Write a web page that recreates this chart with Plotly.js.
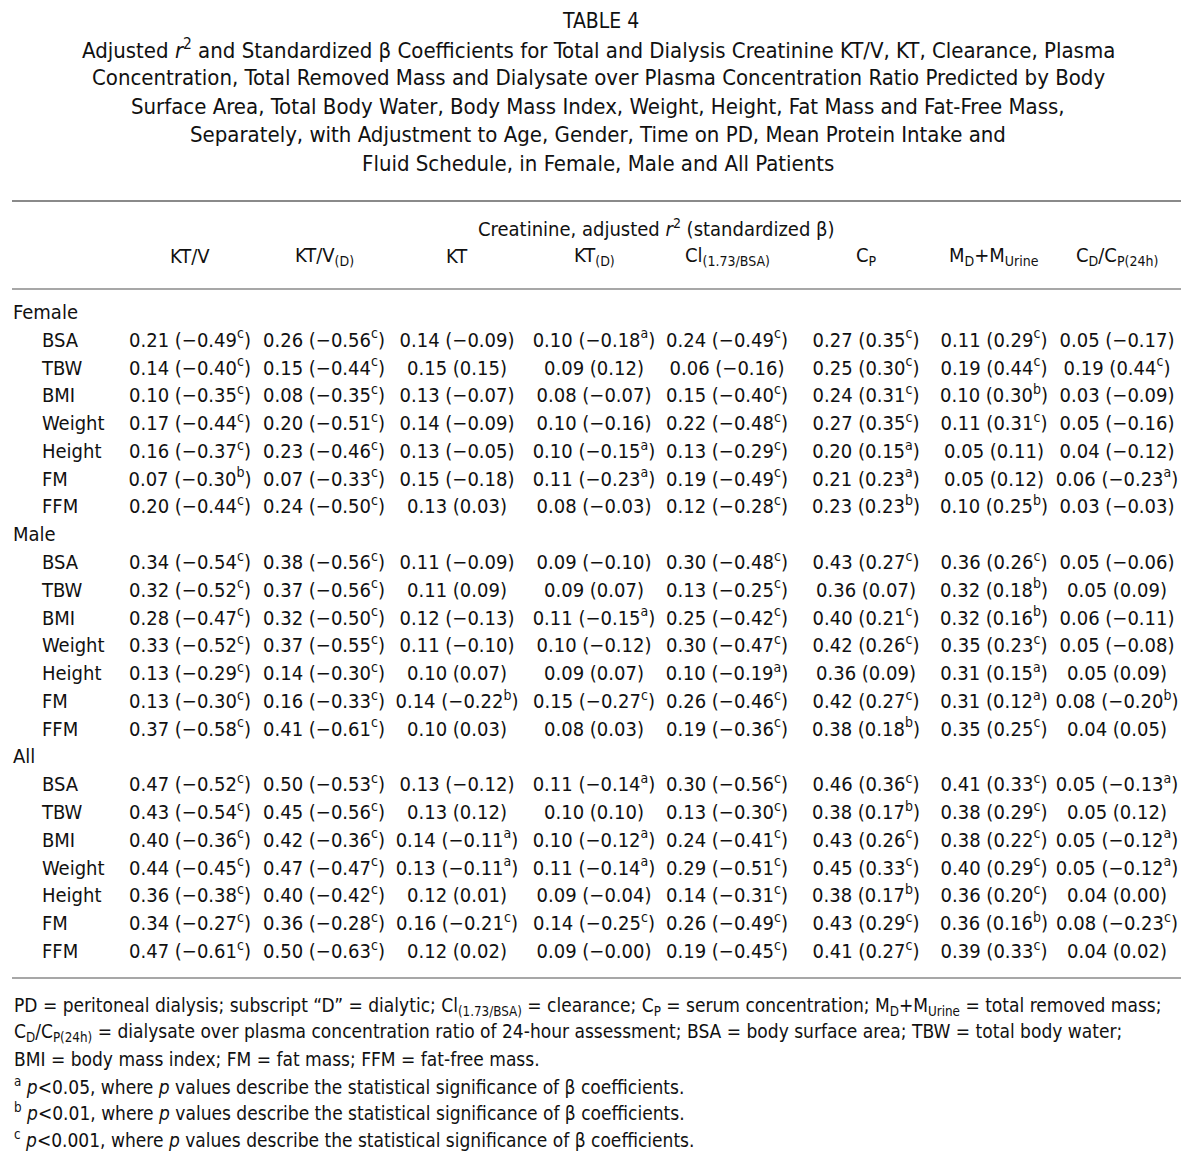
<!DOCTYPE html>
<html><head><meta charset="utf-8">
<script src="https://cdn.plot.ly/plotly-3.0.1.min.js"></script>
<style>html,body{margin:0;padding:0;background:#fff}</style>
</head><body><div id="chart" style="width:1200px;height:1167px"></div>
<script>
// ---------------- DATA ----------------
const tableNumber = 'TABLE 4';
const titleLines = [
  'Adjusted <i>r</i><sup>2</sup> and Standardized β Coefficients for Total and Dialysis Creatinine KT/V, KT, Clearance, Plasma',
  'Concentration, Total Removed Mass and Dialysate over Plasma Concentration Ratio Predicted by Body',
  'Surface Area, Total Body Water, Body Mass Index, Weight, Height, Fat Mass and Fat-Free Mass,',
  'Separately, with Adjustment to Age, Gender, Time on PD, Mean Protein Intake and',
  'Fluid Schedule, in Female, Male and All Patients'
];
const spanningHeader = 'Creatinine, adjusted <i>r</i><sup>2</sup> (standardized β)';
const columnHeaders = ['KT/V', 'KT/V<sub>(D)</sub>', 'KT', 'KT<sub>(D)</sub>', 'Cl<sub>(1.73/BSA)</sub>',
  'C<sub>P</sub>', 'M<sub>D</sub>+M<sub>Urine</sub>', 'C<sub>D</sub>/C<sub>P(24h)</sub>'];
const groups = ['Female', 'Male', 'All'];
const predictors = ['BSA', 'TBW', 'BMI', 'Weight', 'Height', 'FM', 'FFM'];

const femaleCells = [
  ['0.21 (−0.49^c)', '0.26 (−0.56^c)', '0.14 (−0.09)', '0.10 (−0.18^a)', '0.24 (−0.49^c)', '0.27 (0.35^c)', '0.11 (0.29^c)', '0.05 (−0.17)'],
  ['0.14 (−0.40^c)', '0.15 (−0.44^c)', '0.15 (0.15)', '0.09 (0.12)', '0.06 (−0.16)', '0.25 (0.30^c)', '0.19 (0.44^c)', '0.19 (0.44^c)'],
  ['0.10 (−0.35^c)', '0.08 (−0.35^c)', '0.13 (−0.07)', '0.08 (−0.07)', '0.15 (−0.40^c)', '0.24 (0.31^c)', '0.10 (0.30^b)', '0.03 (−0.09)'],
  ['0.17 (−0.44^c)', '0.20 (−0.51^c)', '0.14 (−0.09)', '0.10 (−0.16)', '0.22 (−0.48^c)', '0.27 (0.35^c)', '0.11 (0.31^c)', '0.05 (−0.16)'],
  ['0.16 (−0.37^c)', '0.23 (−0.46^c)', '0.13 (−0.05)', '0.10 (−0.15^a)', '0.13 (−0.29^c)', '0.20 (0.15^a)', '0.05 (0.11)', '0.04 (−0.12)'],
  ['0.07 (−0.30^b)', '0.07 (−0.33^c)', '0.15 (−0.18)', '0.11 (−0.23^a)', '0.19 (−0.49^c)', '0.21 (0.23^a)', '0.05 (0.12)', '0.06 (−0.23^a)'],
  ['0.20 (−0.44^c)', '0.24 (−0.50^c)', '0.13 (0.03)', '0.08 (−0.03)', '0.12 (−0.28^c)', '0.23 (0.23^b)', '0.10 (0.25^b)', '0.03 (−0.03)']
];
const maleCells = [
  ['0.34 (−0.54^c)', '0.38 (−0.56^c)', '0.11 (−0.09)', '0.09 (−0.10)', '0.30 (−0.48^c)', '0.43 (0.27^c)', '0.36 (0.26^c)', '0.05 (−0.06)'],
  ['0.32 (−0.52^c)', '0.37 (−0.56^c)', '0.11 (0.09)', '0.09 (0.07)', '0.13 (−0.25^c)', '0.36 (0.07)', '0.32 (0.18^b)', '0.05 (0.09)'],
  ['0.28 (−0.47^c)', '0.32 (−0.50^c)', '0.12 (−0.13)', '0.11 (−0.15^a)', '0.25 (−0.42^c)', '0.40 (0.21^c)', '0.32 (0.16^b)', '0.06 (−0.11)'],
  ['0.33 (−0.52^c)', '0.37 (−0.55^c)', '0.11 (−0.10)', '0.10 (−0.12)', '0.30 (−0.47^c)', '0.42 (0.26^c)', '0.35 (0.23^c)', '0.05 (−0.08)'],
  ['0.13 (−0.29^c)', '0.14 (−0.30^c)', '0.10 (0.07)', '0.09 (0.07)', '0.10 (−0.19^a)', '0.36 (0.09)', '0.31 (0.15^a)', '0.05 (0.09)'],
  ['0.13 (−0.30^c)', '0.16 (−0.33^c)', '0.14 (−0.22^b)', '0.15 (−0.27^c)', '0.26 (−0.46^c)', '0.42 (0.27^c)', '0.31 (0.12^a)', '0.08 (−0.20^b)'],
  ['0.37 (−0.58^c)', '0.41 (−0.61^c)', '0.10 (0.03)', '0.08 (0.03)', '0.19 (−0.36^c)', '0.38 (0.18^b)', '0.35 (0.25^c)', '0.04 (0.05)']
];
const allCells = [
  ['0.47 (−0.52^c)', '0.50 (−0.53^c)', '0.13 (−0.12)', '0.11 (−0.14^a)', '0.30 (−0.56^c)', '0.46 (0.36^c)', '0.41 (0.33^c)', '0.05 (−0.13^a)'],
  ['0.43 (−0.54^c)', '0.45 (−0.56^c)', '0.13 (0.12)', '0.10 (0.10)', '0.13 (−0.30^c)', '0.38 (0.17^b)', '0.38 (0.29^c)', '0.05 (0.12)'],
  ['0.40 (−0.36^c)', '0.42 (−0.36^c)', '0.14 (−0.11^a)', '0.10 (−0.12^a)', '0.24 (−0.41^c)', '0.43 (0.26^c)', '0.38 (0.22^c)', '0.05 (−0.12^a)'],
  ['0.44 (−0.45^c)', '0.47 (−0.47^c)', '0.13 (−0.11^a)', '0.11 (−0.14^a)', '0.29 (−0.51^c)', '0.45 (0.33^c)', '0.40 (0.29^c)', '0.05 (−0.12^a)'],
  ['0.36 (−0.38^c)', '0.40 (−0.42^c)', '0.12 (0.01)', '0.09 (−0.04)', '0.14 (−0.31^c)', '0.38 (0.17^b)', '0.36 (0.20^c)', '0.04 (0.00)'],
  ['0.34 (−0.27^c)', '0.36 (−0.28^c)', '0.16 (−0.21^c)', '0.14 (−0.25^c)', '0.26 (−0.49^c)', '0.43 (0.29^c)', '0.36 (0.16^b)', '0.08 (−0.23^c)'],
  ['0.47 (−0.61^c)', '0.50 (−0.63^c)', '0.12 (0.02)', '0.09 (−0.00)', '0.19 (−0.45^c)', '0.41 (0.27^c)', '0.39 (0.33^c)', '0.04 (0.02)']
];
const footnotes = [
  'PD = peritoneal dialysis; subscript “D” = dialytic; Cl<sub>(1.73/BSA)</sub> = clearance; C<sub>P</sub> = serum concentration; M<sub>D</sub>+M<sub>Urine</sub> = total removed mass;',
  'C<sub>D</sub>/C<sub>P(24h)</sub> = dialysate over plasma concentration ratio of 24-hour assessment; BSA = body surface area; TBW = total body water;',
  'BMI = body mass index; FM = fat mass; FFM = fat-free mass.',
  '<sup>a</sup> <i>p</i>&lt;0.05, where <i>p</i> values describe the statistical significance of β coefficients.',
  '<sup>b</sup> <i>p</i>&lt;0.01, where <i>p</i> values describe the statistical significance of β coefficients.',
  '<sup>c</sup> <i>p</i>&lt;0.001, where <i>p</i> values describe the statistical significance of β coefficients.'
];
const groupCells = [femaleCells, maleCells, allCells];

// ---------------- LAYOUT CONSTANTS ----------------
const FONT = 'DejaVu Sans Condensed';
const FS = 20;
const colCenters = [190, 324, 457, 594, 727, 866, 994, 1117];
const firstRowY = 314, rowStep = 27.78;
const titleY0 = 21, titleStep = 28.4;
const footY0 = 1006, footStep = 26.6;
const INK = '#111';

const ann = [];
function addText(text, x, y, xanchor, size) {
  ann.push({text: text, x: x, y: y, xref: 'x', yref: 'y', xanchor: xanchor || 'center', yanchor: 'middle',
    showarrow: false, font: {family: FONT, size: size || FS, color: INK}, borderpad: 0});
}
addText(tableNumber, 600, titleY0, 'center', 21);
titleLines.forEach((t, i) => addText(t, 598, titleY0 + (i + 1) * titleStep, 'center', 22));
addText(spanningHeader, 656, 228);
columnHeaders.forEach((h, j) => addText(h, colCenters[j], 256));
footnotes.forEach((f, i) => addText(f, 13, footY0 + i * footStep, 'left', 19));

// table body as text marks placed through the axes
const cellX = [], cellY = [], cellT = [];
const labX = [], labY = [], labT = [];
let k = 0;
groups.forEach((g, gi) => {
  labX.push(13); labY.push(firstRowY + k * rowStep); labT.push(g);
  k++;
  predictors.forEach((p, pi) => {
    const y = firstRowY + k * rowStep;
    labX.push(42); labY.push(y); labT.push(p);
    groupCells[gi][pi].forEach((c, j) => {
      cellX.push(colCenters[j]); cellY.push(y);
      cellT.push(c.replace(/\^([abc])/g, '<sup>$1</sup>'));
    });
    k++;
  });
});

const traces = [
  {type: 'scatter', mode: 'text', x: cellX, y: cellY, text: cellT, textposition: 'middle center',
   textfont: {family: FONT, size: FS, color: INK}, hoverinfo: 'skip', cliponaxis: false},
  {type: 'scatter', mode: 'text', x: labX, y: labY, text: labT, textposition: 'middle right',
   textfont: {family: FONT, size: FS, color: INK}, hoverinfo: 'skip', cliponaxis: false}
];

const rule = (y, w) => ({type: 'line', xref: 'x', yref: 'y', x0: 12, x1: 1181, y0: y, y1: y,
  line: {color: '#8a8a8a', width: w}});

const layout = {
  width: 1200, height: 1167,
  margin: {l: 0, r: 0, t: 0, b: 0},
  paper_bgcolor: '#fff', plot_bgcolor: '#fff',
  xaxis: {range: [0, 1200], visible: false, fixedrange: true},
  yaxis: {range: [1167, 0], visible: false, fixedrange: true},
  showlegend: false,
  annotations: ann,
  shapes: [rule(201, 2.2), rule(289, 1.6), rule(978, 1.6)]
};
Plotly.newPlot('chart', traces, layout, {displayModeBar: false});
</script></body></html>
